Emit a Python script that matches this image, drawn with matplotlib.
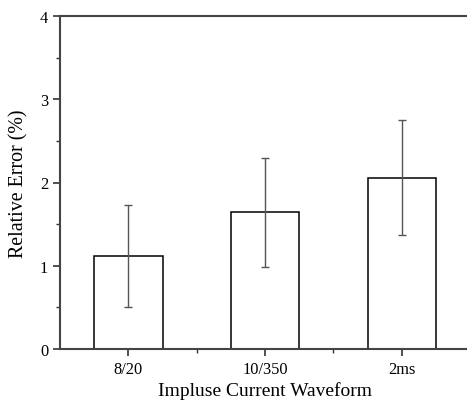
import numpy as np
import matplotlib.pyplot as plt
from matplotlib.ticker import MultipleLocator

# --- Data ---
waveforms = ['8/20', '10/350', '2ms']
rel_error = [1.12, 1.645, 2.06]
err_bar = [0.61, 0.655, 0.69]

plt.rcParams['font.family'] = ['Liberation Serif', 'DejaVu Serif']

fig = plt.figure(figsize=(4.67, 4.06), dpi=100)
ax = fig.add_axes([60/467, 56/406, 410/467, 333/406])

x = np.arange(1, len(waveforms) + 1)
ax.bar(x, rel_error, width=0.5, color='white', edgecolor='black', linewidth=1.1)
ax.errorbar(x, rel_error, yerr=err_bar, fmt='none', ecolor='#555555',
            elinewidth=1.0, capsize=3, capthick=1.0)

ax.set_xlim(0.5, 3.5)
ax.set_ylim(0, 4)
ax.set_xticks(x)
ax.set_xticklabels(waveforms)
ax.set_xticks([1.5, 2.5], minor=True)
ax.yaxis.set_major_locator(MultipleLocator(1))
ax.yaxis.set_minor_locator(MultipleLocator(0.5))

ax.tick_params(which='major', direction='out', length=5, width=1.2, labelsize=11.8, colors='#333333')
ax.tick_params(which='minor', direction='out', length=3, width=1.0, colors='#333333')
ax.tick_params(axis='both', which='both', labelcolor='black')

for s in ax.spines.values():
    s.set_linewidth(1.5)
    s.set_color('#444444')

ax.set_xlabel('Impluse Current Waveform', fontsize=14, labelpad=3)
ax.set_ylabel('Relative Error (%)', fontsize=14.4, labelpad=8)

fig.savefig('out.png', dpi=100)
